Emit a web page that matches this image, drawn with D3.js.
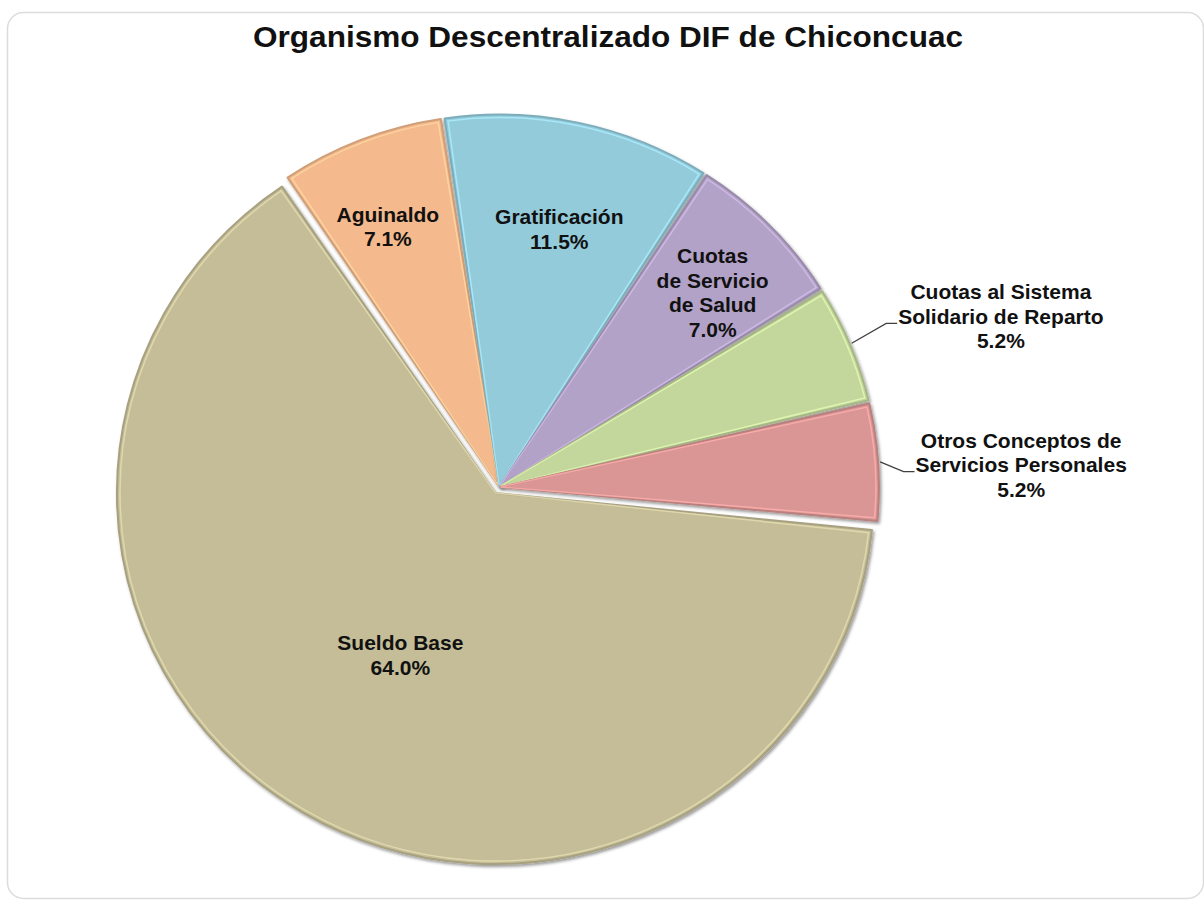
<!DOCTYPE html>
<html><head><meta charset="utf-8">
<script src="https://cdn.jsdelivr.net/npm/d3@7"></script>
<style>
html,body{margin:0;padding:0;background:#fff;}
svg{display:block;}
text{font-family:"Liberation Sans",Arial,Helvetica,sans-serif;font-weight:bold;fill:#111;}
</style></head><body>
<svg id="chart" width="1204" height="901"></svg>
<script>
const title = "Organismo Descentralizado DIF de Chiconcuac";
const categories = ["Sueldo Base","Aguinaldo","Gratificación","Cuotas de Servicio de Salud","Cuotas al Sistema Solidario de Reparto","Otros Conceptos de Servicios Personales"];
const values = [64.0, 7.1, 11.5, 7.0, 5.2, 5.2];
const labelLines = [["Sueldo Base"],["Aguinaldo"],["Gratificación"],["Cuotas","de Servicio","de Salud"],["Cuotas al Sistema","Solidario de Reparto"],["Otros Conceptos de","Servicios Personales"]];
const colors = ["#C4BD97","#F4B98C","#93CBDB","#B3A2C7","#C3D69B","#D99694"];

const svg = d3.select("#chart");
const defs = svg.append("defs");
const f = defs.append("filter").attr("id","sh").attr("x","-10%").attr("y","-10%").attr("width","125%").attr("height","125%");
f.append("feDropShadow").attr("dx",1.5).attr("dy",2).attr("stdDeviation",1.6).attr("flood-color","#000").attr("flood-opacity",0.4);

svg.append("rect").attr("x",7.5).attr("y",12.5).attr("width",1196).attr("height",886).attr("rx",16)
  .attr("fill","#fff").attr("stroke","#dcdcdc").attr("stroke-width",1.5);

svg.append("text").attr("x",608).attr("y",47).attr("text-anchor","middle")
  .style("font-size","29px").attr("textLength",710).attr("lengthAdjust","spacingAndGlyphs").text(title);

const cx = 499, cy = 487, R = 371, sx = 1.02;
const deg = Math.PI/180;
const start = 95.5*deg;
const color = d3.scaleOrdinal().domain(categories).range(colors);
const pie = d3.pie().sort(null).value(d=>d.v).startAngle(start).endAngle(start + 2*Math.PI);
const arcs = pie(categories.map((c,i)=>({c, v:values[i], i})));
const arc = d3.arc().innerRadius(0).outerRadius(R).padAngle(0.008).padRadius(R);
const arcIn = d3.arc().innerRadius(0).outerRadius(R-3).padAngle(0.024).padRadius(R);
const explode = i => i===0 ? 7 : 1.5;
const mid = d => (d.startAngle + d.endAngle)/2;
const g = svg.append("g").attr("transform",`translate(${cx},${cy}) scale(${sx},1)`);

const sl = g.selectAll("g.slice").data(arcs).join("g").attr("class","slice")
  .attr("transform", d => { const m = mid(d), e = explode(d.data.i); return `translate(${Math.sin(m)*e},${-Math.cos(m)*e})`; });
sl.append("path").attr("d",arc).attr("fill",d=>color(d.data.c))
  .attr("stroke",d=>d3.color(color(d.data.c)).darker(0.45)).attr("stroke-width",2).attr("stroke-linejoin","round")
  .attr("filter","url(#sh)");
sl.append("path").attr("d",arcIn).attr("fill","none")
  .attr("stroke",d=>d3.color(color(d.data.c)).brighter(0.45)).attr("stroke-width",1.5).attr("opacity",0.8);

// labels
const total = d3.sum(values);
const pct = d3.format(".1%");
const lblPos = [{r:0.524,da:-0.3},{r:0.761,da:-1.8},{r:0.712,da:1.0},{r:0.777,da:2.2},{r:1.425,da:3.8},{r:1.405,da:1.4}];
const lh = 24.5;
arcs.forEach(d => {
  const i = d.data.i;
  const a = mid(d) + lblPos[i].da*deg;
  const r = 372*lblPos[i].r;
  const x = cx + Math.sin(a)*r, y = cy - Math.cos(a)*r;
  const lines = labelLines[i].concat([pct(values[i]/total)]);
  const n = lines.length;
  const nodes = lines.map((t,k) => svg.append("text").attr("x",x).attr("y",y + (k-(n-1)/2)*lh)
      .attr("text-anchor","middle").attr("dominant-baseline","central").style("font-size","21px").text(t));
  if (i >= 4) {
    const len = nodes[1].node().getComputedTextLength();
    const left = x - len/2;
    const ly = y + (1-(n-1)/2)*lh + 7;
    const m = mid(d);
    const rs = R + explode(i) + 2;
    const px = cx + Math.sin(m)*rs*sx, py = cy - Math.cos(m)*rs;
    svg.append("path").attr("d", d3.line()([[px,py],[left-12,ly],[left-1,ly]]))
      .attr("fill","none").attr("stroke","#404040").attr("stroke-width",1.3);
  }
});
</script>
</body></html>
